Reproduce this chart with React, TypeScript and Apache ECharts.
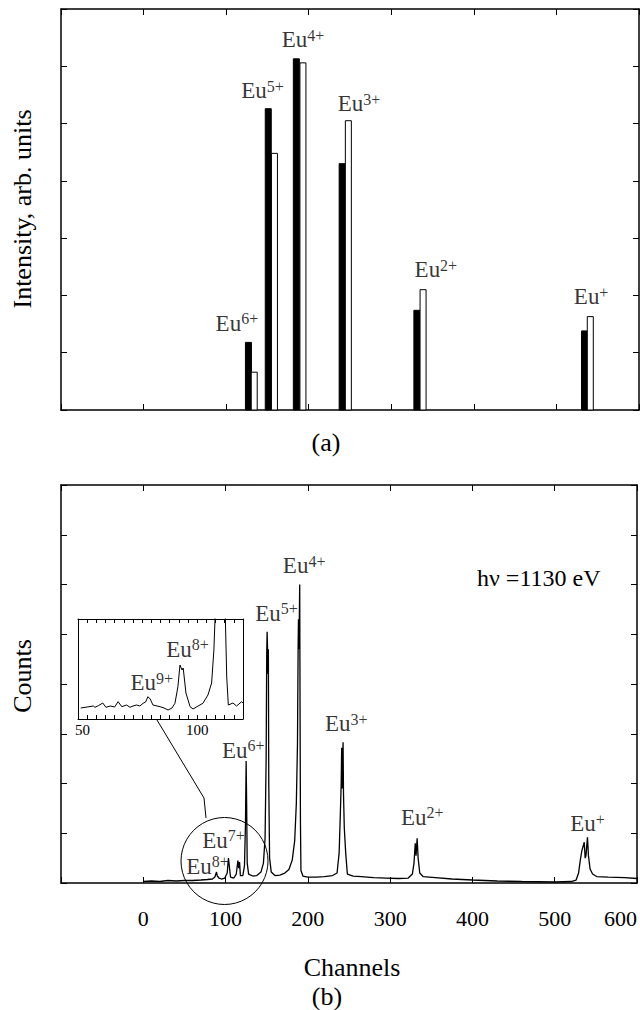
import React, { useEffect, useRef } from 'react';
import * as echarts from 'echarts';

const FONT = '"Liberation Serif", "Times New Roman", serif';

// ---------- Panel (a): relative intensities (black = measured, white = calculated)
const ionsA = ['6+', '5+', '4+', '3+', '2+', '+'];
const blackBarChannels = [127, 151, 185, 240.5, 331, 534];
const blackBarValues = [1.18, 5.26, 6.13, 4.3, 1.74, 1.38];
const whiteBarChannels = [134, 158.5, 193, 248, 338.5, 541];
const whiteBarValues = [0.66, 4.48, 6.06, 5.05, 2.1, 1.63];
const labelAChannels = [113, 144, 193, 261, 354, 542];
const labelAValues = [1.51, 5.57, 6.46, 5.35, 2.45, 1.98];

// ---------- Panel (b): time-of-flight spectrum
const spectrumChannels = [
  0, 10, 20, 30, 40, 50, 60, 70, 78, 84, 87, 89, 90, 92, 95, 99, 102, 103.5, 104.5, 106,
  110, 113, 115, 116, 117, 118, 121, 123, 124.2, 125, 125.6, 126.3, 128, 133, 138, 143, 146, 148,
  149.3, 150, 150.5, 151, 151.5, 152, 152.5, 153.5, 155.5, 160, 166, 172, 177, 181, 184, 186,
  187.4, 188.2, 188.6, 189.1, 189.6, 190.1, 190.5, 191, 191.6, 194, 200, 210, 220, 230, 235.5,
  238, 239.5, 240.5, 241.1, 241.7, 242.3, 242.8, 243.3, 244.3, 246, 248, 255, 265, 280, 295,
  310, 322, 327, 329, 330.5, 331.5, 332.8, 334, 336, 340, 355, 375, 400, 430, 460, 500, 520,
  526, 529, 531, 533, 535.9, 537, 538, 539.8, 541, 543, 546, 551, 565, 585, 600,
];
const spectrumCounts = [
  0.03, 0.04, 0.03, 0.05, 0.04, 0.05, 0.05, 0.06, 0.07, 0.08, 0.12, 0.22, 0.14, 0.1, 0.08, 0.1, 0.2, 0.5, 0.35, 0.12,
  0.1, 0.18, 0.45, 0.3, 0.42, 0.15, 0.15, 0.35, 1.2, 2.45, 1.6, 0.4, 0.18, 0.14, 0.15, 0.22, 0.4, 0.9,
  2.5, 4.6, 5.05, 4.7, 4.2, 4.7, 2.0, 0.5, 0.22, 0.15, 0.16, 0.2, 0.27, 0.46, 0.85, 1.6,
  2.8, 4.8, 5.3, 4.7, 5.25, 6.0, 3.6, 1.2, 0.25, 0.14, 0.12, 0.12, 0.13, 0.15, 0.2,
  0.6, 1.4, 2.0, 2.72, 1.9, 2.4, 2.83, 1.8, 1.1, 0.6, 0.18, 0.14, 0.13, 0.11, 0.1,
  0.09, 0.1, 0.18, 0.4, 0.8, 0.55, 0.9, 0.5, 0.2, 0.13, 0.11, 0.08, 0.06, 0.04, 0.03, 0.02, 0.03,
  0.06, 0.2, 0.45, 0.65, 0.82, 0.5, 0.55, 0.92, 0.55, 0.28, 0.18, 0.13, 0.12, 0.11, 0.09,
];
const ionsB = ['8+', '7+', '6+', '5+', '4+', '3+', '2+', '+'];
const labelBChannels = [78, 97.4, 121.5, 162, 195.5, 246.7, 339, 539.8];
const labelBValues = [0.34, 0.86, 2.67, 5.42, 6.38, 3.2, 1.32, 1.19];

// ---------- Inset: channels 50-120 enlarged
const insetChannels = [
  49.2, 52, 54.7, 55.4, 57, 58.8, 60.2, 62, 64, 65.5, 67.1, 69.2, 70.7, 72, 73.6, 75, 76.4, 77.5,
  78.5, 79.5, 80.7, 83.8, 85.5, 87.3, 89, 90.3, 91.6, 92.5, 93.4, 93.9, 95.1, 96.9, 98.2, 100.4,
  102.5, 104.7, 106.3, 107.3, 108.1, 110, 112.1, 112.9, 113.6, 115.6, 117.2, 119.4, 120,
];
const insetCounts = [
  1.1, 1.2, 1.3, 1.17, 1.35, 1.6, 1.17, 1.3, 1.2, 1.73, 1.23, 1.4, 1.17, 1.3, 1.4, 1.3, 1.57, 1.7,
  2.23, 2.0, 1.4, 1.23, 1.1, 0.9, 1.1, 1.57, 3.23, 5.4, 4.9, 5.1, 2.6, 1.23, 1.0, 1.3,
  1.57, 2.4, 3.6, 6.9, 12, 30, 12, 4.2, 1.4, 1.6, 1.3, 1.73, 1.6,
];
const ionsInset = ['9+', '8+'];
const labelInsetChannels = [80.2, 95.8];
const labelInsetValues = [3.64, 6.96];
const insetTickValues = [52, 56, 60, 64, 68, 72, 76, 80, 84, 88, 92, 96, 100, 104, 108, 112, 116];
const insetLabelValues = [50, 100];

const black = '#000';

function ionLabelSeries(name: string, xi: number, ions: string[], xs: number[], ys: number[]) {
  return {
    name,
    type: 'scatter',
    xAxisIndex: xi,
    yAxisIndex: xi,
    symbolSize: 0,
    silent: true,
    z: 10,
    data: ions.map((ion, i) => ({ value: [xs[i], ys[i]], ion })),
    label: {
      show: true,
      position: 'inside',
      align: 'center',
      verticalAlign: 'middle',
      formatter: (p: any) => `{b|Eu}{s|${p.data.ion}}`,
      rich: {
        b: { fontFamily: FONT, fontSize: 23, lineHeight: 25, color: black },
        s: { fontFamily: FONT, fontSize: 16, lineHeight: 14, verticalAlign: 'top', color: black },
      },
    },
  };
}

function barSeries(name: string, xs: number[], vs: number[], fill: string) {
  return {
    name,
    type: 'custom',
    xAxisIndex: 0,
    yAxisIndex: 0,
    silent: true,
    data: xs.map((x, i) => [x, vs[i]]),
    renderItem: (params: any, api: any) => {
      const top = api.coord([api.value(0), api.value(1)]);
      const base = api.coord([api.value(0), 0]);
      return {
        type: 'rect',
        shape: { x: top[0] - 3, y: top[1], width: 6, height: base[1] - top[1] },
        style: { fill, stroke: black, lineWidth: 1 },
      };
    },
  };
}

const lineStyle = { color: black, width: 1.5 };

function xAxisDef(gridIndex: number, position: string, labels: boolean) {
  return {
    type: 'value',
    gridIndex,
    position,
    min: -100,
    max: 600,
    interval: 100,
    axisLine: { show: true, onZero: false, lineStyle },
    axisTick: { show: true, inside: true, length: 6, lineStyle: { color: black, width: 1 } },
    axisLabel: labels
      ? {
          show: true,
          fontFamily: FONT,
          fontSize: 22,
          color: black,
          margin: 24,
          alignMaxLabel: 'right',
          formatter: (v: number) => (v < 0 ? '' : String(v)),
        }
      : { show: false },
    splitLine: { show: false },
  };
}

function yAxisDef(gridIndex: number, position: string, max: number) {
  return {
    type: 'value',
    gridIndex,
    position,
    min: 0,
    max,
    interval: 1,
    axisLine: { show: true, onZero: false, lineStyle },
    axisTick: { show: true, inside: true, length: 6, lineStyle: { color: black, width: 1 } },
    axisLabel: { show: false },
    splitLine: { show: false },
  };
}

function insetX(position: string, labels: boolean) {
  return {
    type: 'value',
    gridIndex: 2,
    position,
    min: 48,
    max: 120,
    axisLine: { show: true, onZero: false, lineStyle: { color: black, width: 1 } },
    axisTick: {
      show: true,
      inside: true,
      length: 4,
      customValues: insetTickValues,
      lineStyle: { color: black, width: 1 },
    },
    axisLabel: labels
      ? { show: true, customValues: insetLabelValues, fontFamily: FONT, fontSize: 15, color: black, margin: 3 }
      : { show: false },
    splitLine: { show: false },
  };
}

function insetY(position: string) {
  return {
    type: 'value',
    gridIndex: 2,
    position,
    min: 0,
    max: 10,
    axisLine: { show: true, onZero: false, lineStyle: { color: black, width: 1 } },
    axisTick: { show: false },
    axisLabel: { show: false },
    splitLine: { show: false },
  };
}

export default function App() {
  const ref = useRef<HTMLDivElement>(null);
  useEffect(() => {
    if (!ref.current) return;
    const chart = echarts.init(ref.current, undefined, { renderer: 'svg' });
    const option: any = {
      animation: false,
      backgroundColor: '#fff',
      grid: [
        { left: 61, top: 9, width: 578, height: 401 },
        { left: 61, top: 485, width: 578, height: 398 },
        { left: 78, top: 619, width: 165, height: 100 },
      ],
      xAxis: [
        xAxisDef(0, 'bottom', false),
        xAxisDef(0, 'top', false),
        xAxisDef(1, 'bottom', true),
        xAxisDef(1, 'top', false),
        insetX('bottom', true),
        insetX('top', false),
      ],
      yAxis: [
        yAxisDef(0, 'left', 7),
        yAxisDef(0, 'right', 7),
        yAxisDef(1, 'left', 8),
        yAxisDef(1, 'right', 8),
        insetY('left'),
        insetY('right'),
      ],
      series: [
        barSeries('measured', blackBarChannels, blackBarValues, black),
        barSeries('calculated', whiteBarChannels, whiteBarValues, '#fff'),
        ionLabelSeries('labelsA', 0, ionsA, labelAChannels, labelAValues),
        {
          name: 'spectrum',
          type: 'line',
          xAxisIndex: 2,
          yAxisIndex: 2,
          showSymbol: false,
          silent: true,
          lineStyle: { color: black, width: 1.3 },
          data: spectrumChannels.map((c, i) => [c, spectrumCounts[i]]),
        },
        ionLabelSeries('labelsB', 2, ionsB, labelBChannels, labelBValues),
        {
          name: 'inset',
          type: 'line',
          xAxisIndex: 4,
          yAxisIndex: 4,
          showSymbol: false,
          silent: true,
          clip: true,
          lineStyle: { color: black, width: 1 },
          data: insetChannels.map((c, i) => [c, insetCounts[i]]),
        },
        ionLabelSeries('labelsInset', 4, ionsInset, labelInsetChannels, labelInsetValues),
      ],
      graphic: [
        {
          type: 'text',
          x: 22,
          y: 209,
          rotation: Math.PI / 2,
          style: {
            text: 'Intensity, arb. units',
            fontFamily: FONT,
            fontSize: 26,
            fill: black,
            align: 'center',
            verticalAlign: 'middle',
          },
        },
        {
          type: 'text',
          x: 326,
          y: 442,
          style: { text: '(a)', fontFamily: FONT, fontSize: 26, fill: black, align: 'center', verticalAlign: 'middle' },
        },
        {
          type: 'text',
          x: 22,
          y: 676,
          rotation: Math.PI / 2,
          style: { text: 'Counts', fontFamily: FONT, fontSize: 26, fill: black, align: 'center', verticalAlign: 'middle' },
        },
        {
          type: 'text',
          x: 352,
          y: 967,
          style: { text: 'Channels', fontFamily: FONT, fontSize: 26, fill: black, align: 'center', verticalAlign: 'middle' },
        },
        {
          type: 'text',
          x: 327,
          y: 996,
          style: { text: '(b)', fontFamily: FONT, fontSize: 26, fill: black, align: 'center', verticalAlign: 'middle' },
        },
        {
          type: 'text',
          x: 477,
          y: 578,
          style: { text: 'h\u03bd =1130 eV', fontFamily: FONT, fontSize: 24, fill: black, align: 'left', verticalAlign: 'middle' },
        },
        {
          type: 'circle',
          shape: { cx: 224.5, cy: 861, r: 43.5 },
          style: { fill: 'none', stroke: black, lineWidth: 1 },
          z: 20,
        },
        {
          type: 'polyline',
          shape: { points: [[157, 720], [204, 798], [206, 818]] },
          style: { fill: 'none', stroke: black, lineWidth: 1 },
          z: 20,
        },
      ],
    };
    chart.setOption(option);
    return () => chart.dispose();
  }, []);
  return (
    <div
      ref={ref}
      style={{ position: 'absolute', left: 0, top: 0, width: 640, height: 1010, background: '#fff' }}
    />
  );
}
